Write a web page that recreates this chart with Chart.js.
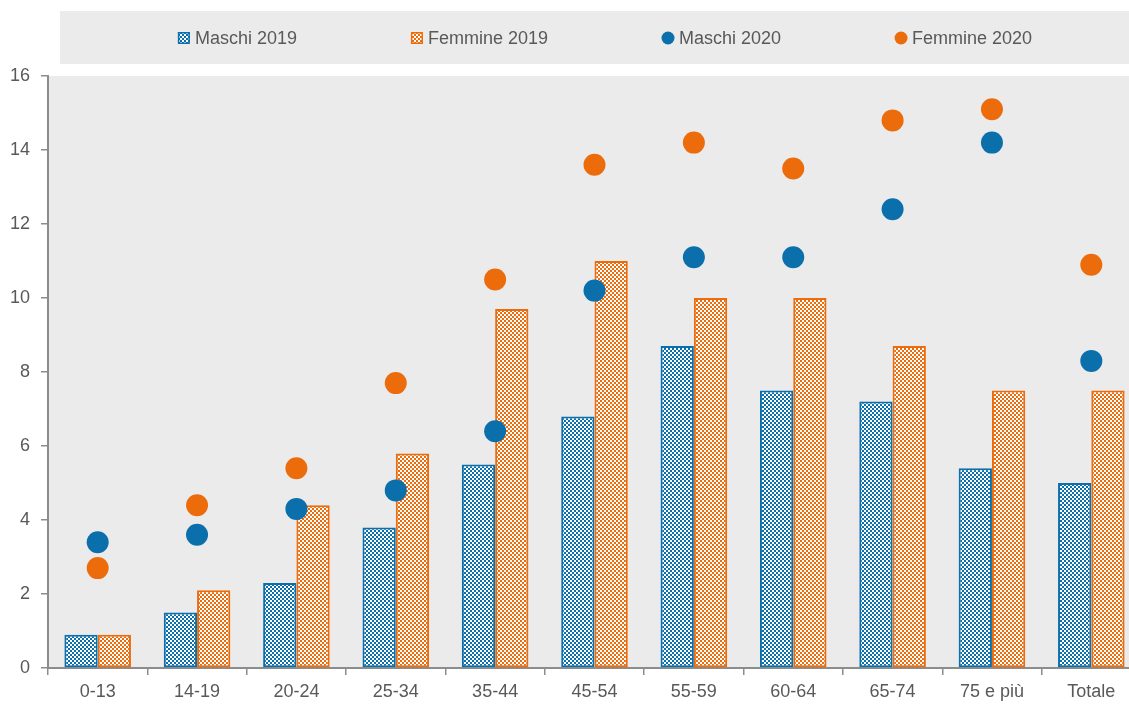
<!DOCTYPE html>
<html>
<head>
<meta charset="utf-8">
<script src="https://cdn.jsdelivr.net/npm/chart.js@4.4.1/dist/chart.umd.min.js"></script>
<style>
  html, body { margin: 0; padding: 0; background: #fff; overflow: hidden; }
  #wrap { width: 1141px; height: 707px; }
</style>
</head>
<body>
<div id="wrap"><canvas id="chart" width="1141" height="707"></canvas></div>
<script>
const categories = ["0-13", "14-19", "20-24", "25-34", "35-44", "45-54", "55-59", "60-64", "65-74", "75 e più", "Totale"]
const maschi2019 = [0.9, 1.5, 2.3, 3.8, 5.5, 6.8, 8.7, 7.5, 7.2, 5.4, 5.0]
const femmine2019 = [0.9, 2.1, 4.4, 5.8, 9.7, 11.0, 10.0, 10.0, 8.7, 7.5, 7.5]
const maschi2020 = [3.4, 3.6, 4.3, 4.8, 6.4, 10.2, 11.1, 11.1, 12.4, 14.2, 8.3]
const femmine2020 = [2.7, 4.4, 5.4, 7.7, 10.5, 13.6, 14.2, 13.5, 14.8, 15.1, 10.9]
const seriesNames = ["Maschi 2019", "Femmine 2019", "Maschi 2020", "Femmine 2020"]

const BLUE = "#0a6fab"
const ORANGE = "#ec6c0c"
const TEXT = "#595959"
const AXIS = "#8c8c8c"
const FONT = "'Liberation Sans Narrow', 'Arial Narrow', 'Liberation Sans', Arial, sans-serif"

const canvas = document.getElementById("chart")
const ctx = canvas.getContext("2d")

// small checker pattern used for the 2019 bars
function checker(color) {
  const c = document.createElement("canvas")
  c.width = 4
  c.height = 4
  const g = c.getContext("2d")
  g.fillStyle = "#ffffff"
  g.fillRect(0, 0, 4, 4)
  g.fillStyle = color
  g.fillRect(0, 0, 2, 2)
  g.fillRect(2, 2, 2, 2)
  return ctx.createPattern(c, "repeat")
}

const plotBackground = {
  id: "plotBackground",
  beforeDraw(chart) {
    const { ctx, chartArea: a } = chart
    ctx.save()
    ctx.fillStyle = "#ebebeb"
    ctx.fillRect(a.left, a.top, a.right - a.left, a.bottom - a.top)
    ctx.restore()
  },
}

// legend inside a grey band above the plot
const boxedLegend = {
  id: "boxedLegend",
  afterDraw(chart) {
    const { ctx } = chart
    ctx.save()
    ctx.fillStyle = "#ebebeb"
    ctx.fillRect(60, 11, 1081, 53)
    ctx.font = "18px " + FONT
    ctx.textBaseline = "middle"
    const gap = 114
    const iconW = 17
    const items = chart.data.datasets.map((ds) => ({ ds, w: iconW + ctx.measureText(ds.label).width }))
    const total = items.reduce((s, it) => s + it.w, 0) + gap * (items.length - 1)
    let x = 605 - total / 2
    const y = 38
    items.forEach(({ ds, w }) => {
      if (ds.type === "line") {
        ctx.fillStyle = ds.pointBackgroundColor
        ctx.beginPath()
        ctx.arc(x + 6, y, 6.5, 0, Math.PI * 2)
        ctx.fill()
      } else {
        ctx.fillStyle = ds.backgroundColor
        ctx.fillRect(x, y - 6, 12, 12)
        ctx.strokeStyle = ds.borderColor
        ctx.lineWidth = 1.5
        ctx.strokeRect(x + 0.75, y - 5.25, 10.5, 10.5)
      }
      ctx.fillStyle = TEXT
      ctx.fillText(ds.label, x + iconW, y + 1)
      x += w + gap
    })
    ctx.restore()
  },
}

new Chart(ctx, {
  data: {
    labels: categories,
    datasets: [
      {
        type: "bar",
        label: seriesNames[0],
        data: maschi2019,
        backgroundColor: checker(BLUE),
        borderColor: BLUE,
        borderWidth: 2,
        borderSkipped: false,
        order: 2,
      },
      {
        type: "bar",
        label: seriesNames[1],
        data: femmine2019,
        backgroundColor: checker(ORANGE),
        borderColor: ORANGE,
        borderWidth: 2,
        borderSkipped: false,
        order: 2,
      },
      {
        type: "line",
        label: seriesNames[2],
        data: maschi2020,
        showLine: false,
        pointRadius: 11,
        pointHoverRadius: 11,
        pointBorderWidth: 0,
        pointBackgroundColor: BLUE,
        borderColor: BLUE,
        order: 1,
      },
      {
        type: "line",
        label: seriesNames[3],
        data: femmine2020,
        showLine: false,
        pointRadius: 11,
        pointHoverRadius: 11,
        pointBorderWidth: 0,
        pointBackgroundColor: ORANGE,
        borderColor: ORANGE,
        order: 1,
      },
    ],
  },
  options: {
    responsive: false,
    animation: false,
    layout: { autoPadding: false, padding: { top: 76, right: 0, left: 0, bottom: 0 } },
    datasets: {
      bar: { categoryPercentage: 0.67, barPercentage: 1 },
    },
    plugins: {
      legend: { display: false },
      tooltip: { enabled: false },
    },
    scales: {
      x: {
        offset: true,
        grid: { offset: true, drawOnChartArea: false, drawTicks: true, tickLength: 7, color: AXIS, lineWidth: 1.5 },
        border: { display: true, color: AXIS, width: 2 },
        ticks: { color: TEXT, font: { family: FONT, size: 18 }, padding: 6, maxRotation: 0, autoSkip: false },
        afterFit: (scale) => {
          scale.height = 39
          scale.paddingLeft = 0
          scale.paddingRight = 0
        },
      },
      y: {
        min: 0,
        max: 16,
        ticks: { stepSize: 2, color: TEXT, font: { family: FONT, size: 18 }, padding: 11 },
        grid: { drawOnChartArea: false, drawTicks: true, tickLength: 7, color: AXIS, lineWidth: 1.5 },
        border: { display: true, color: AXIS, width: 2 },
        afterFit: (scale) => { scale.width = 48 },
      },
    },
  },
  plugins: [plotBackground, boxedLegend],
})
</script>
</body>
</html>
